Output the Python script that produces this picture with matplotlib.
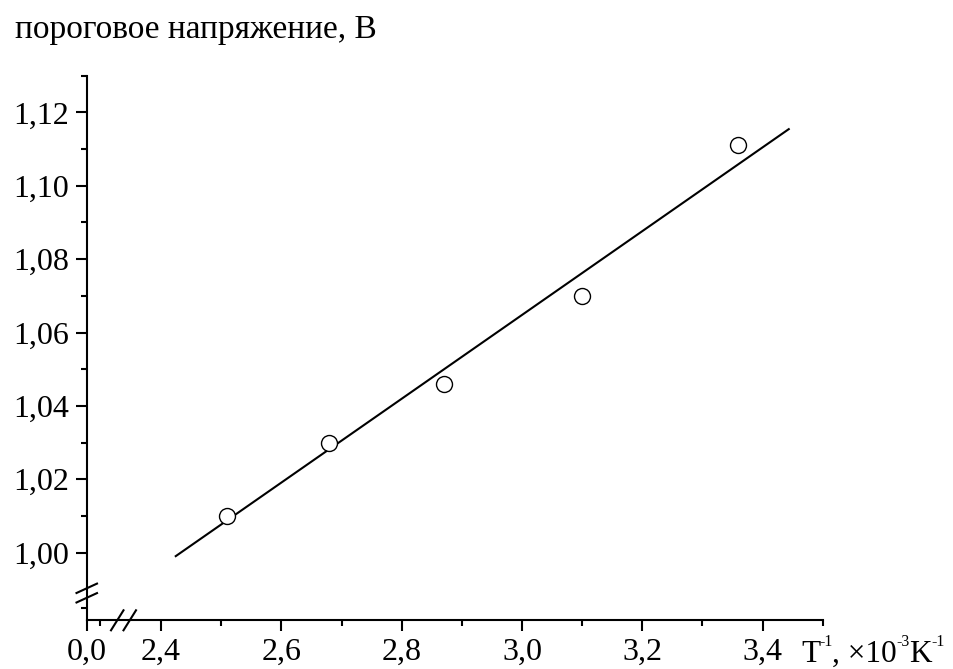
import numpy as np
import matplotlib
matplotlib.use('Agg')
import matplotlib.pyplot as plt
from matplotlib.ticker import FixedLocator, FuncFormatter
from matplotlib.transforms import ScaledTranslation
from matplotlib.lines import Line2D

# ── Данные ────────────────────────────────────────────────────────────────────
obr_T = [2.51, 2.68, 2.87, 3.10, 3.36]          # T^-1, x10^-3 K^-1
napr = [1.010, 1.030, 1.046, 1.070, 1.111]       # пороговое напряжение, В
fit_x = [2.423, 3.445]                           # концы прямой аппроксимации
fit_y = [0.9989, 1.1156]

x_major = [0.0, 2.4, 2.6, 2.8, 3.0, 3.2, 3.4]
x_minor = [0.1, 2.5, 2.7, 2.9, 3.1, 3.3, 3.5]
y_major = [1.00, 1.02, 1.04, 1.06, 1.08, 1.10, 1.12]
y_minor = [0.01, 1.01, 1.03, 1.05, 1.07, 1.09, 1.11, 1.13]

# подпись оси X по частям: (текст, верхний индекс?)
xlabel_parts = [('T', False), ('-1', True), (', ×10', False), ('-3', True),
                ('K', False), ('-1', True)]

# ── Оформление ───────────────────────────────────────────────────────────────
plt.rcParams.update({
    'font.family': ['Liberation Serif', 'DejaVu Serif'],
    'font.size': 23,
    'axes.linewidth': 1.5,
})

DPI = 100
fig = plt.figure(figsize=(9.54, 6.69), dpi=DPI)
W, H = 954, 669
# границы осей в пикселях
L, R, T, B = 87, 822.7, 75.7, 620.3
ax = fig.add_axes([L / W, (H - B) / H, (R - L) / W, (B - T) / H])

# разрывы осей: кусочно-линейная шкала (в пикселях)
xk_d = [0.0, 0.2, 2.35, 3.6]
xk_p = [0.0, 26.0, 43.95, 795.2]
yk_d = [0.0, 0.02, 0.995, 1.3]
yk_p = [0.0, 24.0, 49.2, 1167.0]

ax.set_xscale('function', functions=(lambda v: np.interp(v, xk_d, xk_p),
                                     lambda v: np.interp(v, xk_p, xk_d)))
ax.set_yscale('function', functions=(lambda v: np.interp(v, yk_d, yk_p),
                                     lambda v: np.interp(v, yk_p, yk_d)))

ax.plot(fit_x, fit_y, color='black', lw=1.5, solid_capstyle='butt', zorder=2)
ax.plot(obr_T, napr, ls='none', marker='o', ms=11.5, mfc='white',
        mec='black', mew=1.0, zorder=3)

ax.set_xlim(0, 3.5)
ax.set_ylim(0, 1.13)

ax.spines['top'].set_visible(False)
ax.spines['right'].set_visible(False)

ax.xaxis.set_major_locator(FixedLocator(x_major))
ax.xaxis.set_minor_locator(FixedLocator(x_minor))
ax.yaxis.set_major_locator(FixedLocator(y_major))
ax.yaxis.set_minor_locator(FixedLocator(y_minor))
ax.xaxis.set_major_formatter(FuncFormatter(lambda v, p: f'{v:.1f}'.replace('.', ',')))
ax.yaxis.set_major_formatter(FuncFormatter(lambda v, p: f'{v:.2f}'.replace('.', ',')))

ax.tick_params(which='major', direction='out', length=7.7, width=1.5, labelsize=23)
ax.tick_params(which='minor', direction='out', length=4.0, width=1.5)
ax.tick_params(axis='x', which='major', pad=5)
ax.tick_params(axis='y', which='major', pad=5)


# значки разрыва (смещения в пикселях от угла осей)
def slash(dx1, dy1, dx2, dy2):
    ln = Line2D([dx1 / DPI, dx2 / DPI], [dy1 / DPI, dy2 / DPI], color='black', lw=1.5,
                transform=fig.dpi_scale_trans + ScaledTranslation(0, 0, ax.transAxes),
                clip_on=False)
    fig.add_artist(ln)


# ось X: две наклонные черты около x = 117 и 129 px
for cx in (117 - L, 129.5 - L):
    slash(cx - 6, -10, cx + 6.5, 10)
# ось Y: две черты около y = 27 px над осью X
for cy in (32, 22.5):
    slash(-10.5, cy - 4.7, 10, cy + 4.7)

fig.text(15 / W, (H - 38) / H, 'пороговое напряжение, В', fontsize=24,
         ha='left', va='baseline')

# подпись оси X с верхними индексами
renderer = fig.canvas.get_renderer()
x_px = 801.0
base_px = H - 662
for txt, sup in xlabel_parts:
    if sup:
        t = fig.text(x_px / W, (base_px + 16) / H, txt, fontsize=11.5,
                     ha='left', va='baseline')
    else:
        t = fig.text(x_px / W, base_px / H, txt, fontsize=22.5,
                     ha='left', va='baseline')
    x_px = t.get_window_extent(renderer).x1 - 0.5

fig.savefig('out.png', dpi=DPI, facecolor='white')
